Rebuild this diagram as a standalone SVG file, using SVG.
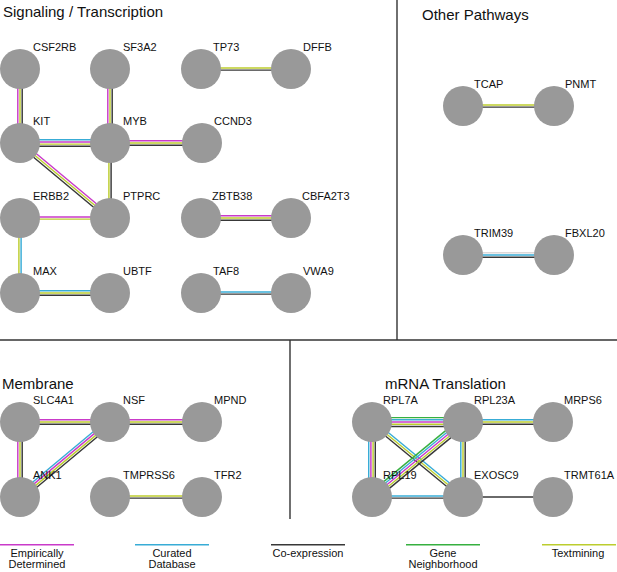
<svg xmlns="http://www.w3.org/2000/svg" width="617" height="572" viewBox="0 0 617 572">
<style>
text{font-family:"Liberation Sans",Arial,sans-serif;fill:#111}
.t{font-size:15px}
.l{font-size:11px}
.lg{font-size:11px;text-anchor:middle}
.n{fill:#999999}
.sep{stroke:#333;stroke-width:1.4;fill:none}
.e line{stroke-width:1.45}
.m{stroke:#c93ac9}
.c{stroke:#38acd6}
.k{stroke:#383838}
.g{stroke:#36b040}
.y{stroke:#bccd2e}
.f{stroke:#ddd8d8}
</style>
<rect width="617" height="572" fill="#fff"/>
<g id="separators">
<line class="sep" x1="397" y1="0" x2="397" y2="340"/>
<line class="sep" x1="0" y1="340" x2="617" y2="340"/>
<line class="sep" x1="290" y1="340" x2="290" y2="519"/>
</g>
<g id="titles">
<text class="t" x="3" y="17">Signaling / Transcription</text>
<text class="t" x="422" y="20">Other Pathways</text>
<text class="t" x="2" y="389">Membrane</text>
<text class="t" x="385" y="389">mRNA Translation</text>
</g>
<g id="connectors" class="e">
<line class="m" x1="17.8" y1="69" x2="17.8" y2="143"/>
<line class="y" x1="20" y1="69" x2="20" y2="143"/>
<line class="k" x1="22.2" y1="69" x2="22.2" y2="143"/>
<line class="m" x1="107.8" y1="69" x2="107.8" y2="143"/>
<line class="y" x1="110" y1="69" x2="110" y2="143"/>
<line class="k" x1="112.2" y1="69" x2="112.2" y2="143"/>
<line class="c" x1="20" y1="139.7" x2="110" y2="139.7"/>
<line class="m" x1="20" y1="141.9" x2="110" y2="141.9"/>
<line class="y" x1="20" y1="144.1" x2="110" y2="144.1"/>
<line class="k" x1="20" y1="146.3" x2="110" y2="146.3"/>
<line class="m" x1="110" y1="140.8" x2="202" y2="140.8"/>
<line class="y" x1="110" y1="143" x2="202" y2="143"/>
<line class="k" x1="110" y1="145.2" x2="202" y2="145.2"/>
<line class="m" x1="21.41" y1="141.31" x2="111.41" y2="216.31"/>
<line class="y" x1="20" y1="143" x2="110" y2="218"/>
<line class="k" x1="18.59" y1="144.69" x2="108.59" y2="219.69"/>
<line class="y" x1="108.9" y1="143" x2="108.9" y2="218"/>
<line class="k" x1="111.1" y1="143" x2="111.1" y2="218"/>
<line class="m" x1="20" y1="216.9" x2="110" y2="216.9"/>
<line class="y" x1="20" y1="219.1" x2="110" y2="219.1"/>
<line class="y" x1="18.9" y1="218" x2="18.9" y2="293"/>
<line class="c" x1="21.1" y1="218" x2="21.1" y2="293"/>
<line class="c" x1="20" y1="290.8" x2="110" y2="290.8"/>
<line class="y" x1="20" y1="293" x2="110" y2="293"/>
<line class="k" x1="20" y1="295.2" x2="110" y2="295.2"/>
<line class="y" x1="201" y1="67.9" x2="291" y2="67.9"/>
<line class="k" x1="201" y1="70.1" x2="291" y2="70.1"/>
<line class="m" x1="201" y1="215.8" x2="291" y2="215.8"/>
<line class="y" x1="201" y1="218" x2="291" y2="218"/>
<line class="k" x1="201" y1="220.2" x2="291" y2="220.2"/>
<line class="c" x1="201" y1="291.9" x2="291" y2="291.9"/>
<line class="k" x1="201" y1="294.1" x2="291" y2="294.1"/>
<line class="y" x1="463" y1="104.9" x2="554" y2="104.9"/>
<line class="k" x1="463" y1="107.1" x2="554" y2="107.1"/>
<line class="f" x1="463" y1="252.8" x2="554" y2="252.8"/>
<line class="c" x1="463" y1="255" x2="554" y2="255"/>
<line class="k" x1="463" y1="257.2" x2="554" y2="257.2"/>
<line class="m" x1="20" y1="419.8" x2="110" y2="419.8"/>
<line class="y" x1="20" y1="422" x2="110" y2="422"/>
<line class="k" x1="20" y1="424.2" x2="110" y2="424.2"/>
<line class="m" x1="110" y1="419.8" x2="202" y2="419.8"/>
<line class="y" x1="110" y1="422" x2="202" y2="422"/>
<line class="k" x1="110" y1="424.2" x2="202" y2="424.2"/>
<line class="m" x1="17.8" y1="422" x2="17.8" y2="497"/>
<line class="y" x1="20" y1="422" x2="20" y2="497"/>
<line class="k" x1="22.2" y1="422" x2="22.2" y2="497"/>
<line class="c" x1="107.89" y1="419.47" x2="17.89" y2="494.47"/>
<line class="m" x1="109.3" y1="421.16" x2="19.3" y2="496.16"/>
<line class="y" x1="110.7" y1="422.84" x2="20.7" y2="497.84"/>
<line class="k" x1="112.11" y1="424.53" x2="22.11" y2="499.53"/>
<line class="y" x1="110" y1="495.9" x2="202" y2="495.9"/>
<line class="k" x1="110" y1="498.1" x2="202" y2="498.1"/>
<line class="g" x1="372" y1="417.6" x2="463" y2="417.6"/>
<line class="c" x1="372" y1="419.8" x2="463" y2="419.8"/>
<line class="m" x1="372" y1="422" x2="463" y2="422"/>
<line class="y" x1="372" y1="424.2" x2="463" y2="424.2"/>
<line class="k" x1="372" y1="426.4" x2="463" y2="426.4"/>
<line class="c" x1="463" y1="419.8" x2="553" y2="419.8"/>
<line class="y" x1="463" y1="422" x2="553" y2="422"/>
<line class="k" x1="463" y1="424.2" x2="553" y2="424.2"/>
<line class="c" x1="368.7" y1="422" x2="368.7" y2="497"/>
<line class="m" x1="370.9" y1="422" x2="370.9" y2="497"/>
<line class="y" x1="373.1" y1="422" x2="373.1" y2="497"/>
<line class="k" x1="375.3" y1="422" x2="375.3" y2="497"/>
<line class="c" x1="460.8" y1="422" x2="460.8" y2="497"/>
<line class="y" x1="463" y1="422" x2="463" y2="497"/>
<line class="k" x1="465.2" y1="422" x2="465.2" y2="497"/>
<line class="c" x1="373.4" y1="420.3" x2="464.4" y2="495.3"/>
<line class="y" x1="372" y1="422" x2="463" y2="497"/>
<line class="k" x1="370.6" y1="423.7" x2="461.6" y2="498.7"/>
<line class="g" x1="460.2" y1="418.6" x2="369.2" y2="493.6"/>
<line class="c" x1="461.6" y1="420.3" x2="370.6" y2="495.3"/>
<line class="m" x1="463" y1="422" x2="372" y2="497"/>
<line class="y" x1="464.4" y1="423.7" x2="373.4" y2="498.7"/>
<line class="k" x1="465.8" y1="425.4" x2="374.8" y2="500.4"/>
<line class="c" x1="372" y1="495.9" x2="463" y2="495.9"/>
<line class="k" x1="372" y1="498.1" x2="463" y2="498.1"/>
<line class="k" x1="463" y1="497" x2="553" y2="497"/>
</g>
<g id="CSF2RB"><circle class="n" cx="20" cy="69" r="20"/><text class="l" x="33" y="51">CSF2RB</text></g>
<g id="SF3A2"><circle class="n" cx="110" cy="69" r="20"/><text class="l" x="123" y="51">SF3A2</text></g>
<g id="TP73"><circle class="n" cx="201" cy="69" r="20"/><text class="l" x="213" y="51">TP73</text></g>
<g id="DFFB"><circle class="n" cx="291" cy="69" r="20"/><text class="l" x="303" y="51">DFFB</text></g>
<g id="KIT"><circle class="n" cx="20" cy="143" r="20"/><text class="l" x="33" y="125">KIT</text></g>
<g id="MYB"><circle class="n" cx="110" cy="143" r="20"/><text class="l" x="123" y="125">MYB</text></g>
<g id="CCND3"><circle class="n" cx="202" cy="143" r="20"/><text class="l" x="214" y="125">CCND3</text></g>
<g id="ERBB2"><circle class="n" cx="20" cy="218" r="20"/><text class="l" x="33" y="200">ERBB2</text></g>
<g id="PTPRC"><circle class="n" cx="110" cy="218" r="20"/><text class="l" x="123" y="200">PTPRC</text></g>
<g id="ZBTB38"><circle class="n" cx="201" cy="218" r="20"/><text class="l" x="212" y="200">ZBTB38</text></g>
<g id="CBFA2T3"><circle class="n" cx="291" cy="218" r="20"/><text class="l" x="302" y="200">CBFA2T3</text></g>
<g id="MAX"><circle class="n" cx="20" cy="293" r="20"/><text class="l" x="33" y="275">MAX</text></g>
<g id="UBTF"><circle class="n" cx="110" cy="293" r="20"/><text class="l" x="123" y="275">UBTF</text></g>
<g id="TAF8"><circle class="n" cx="201" cy="293" r="20"/><text class="l" x="213" y="275">TAF8</text></g>
<g id="VWA9"><circle class="n" cx="291" cy="293" r="20"/><text class="l" x="303" y="275">VWA9</text></g>
<g id="TCAP"><circle class="n" cx="463" cy="106" r="20"/><text class="l" x="474" y="88">TCAP</text></g>
<g id="PNMT"><circle class="n" cx="554" cy="106" r="20"/><text class="l" x="565" y="88">PNMT</text></g>
<g id="TRIM39"><circle class="n" cx="463" cy="255" r="20"/><text class="l" x="474" y="237">TRIM39</text></g>
<g id="FBXL20"><circle class="n" cx="554" cy="255" r="20"/><text class="l" x="565" y="237">FBXL20</text></g>
<g id="SLC4A1"><circle class="n" cx="20" cy="422" r="20"/><text class="l" x="33" y="404">SLC4A1</text></g>
<g id="NSF"><circle class="n" cx="110" cy="422" r="20"/><text class="l" x="123" y="404">NSF</text></g>
<g id="MPND"><circle class="n" cx="202" cy="422" r="20"/><text class="l" x="214" y="404">MPND</text></g>
<g id="ANK1"><circle class="n" cx="20" cy="497" r="20"/><text class="l" x="33" y="479">ANK1</text></g>
<g id="TMPRSS6"><circle class="n" cx="110" cy="497" r="20"/><text class="l" x="123" y="479">TMPRSS6</text></g>
<g id="TFR2"><circle class="n" cx="202" cy="497" r="20"/><text class="l" x="214" y="479">TFR2</text></g>
<g id="RPL7A"><circle class="n" cx="372" cy="422" r="20"/><text class="l" x="383" y="404">RPL7A</text></g>
<g id="RPL23A"><circle class="n" cx="463" cy="422" r="20"/><text class="l" x="474" y="404">RPL23A</text></g>
<g id="MRPS6"><circle class="n" cx="553" cy="422" r="20"/><text class="l" x="564" y="404">MRPS6</text></g>
<g id="RPL19"><circle class="n" cx="372" cy="497" r="20"/><text class="l" x="383" y="479">RPL19</text></g>
<g id="EXOSC9"><circle class="n" cx="463" cy="497" r="20"/><text class="l" x="474" y="479">EXOSC9</text></g>
<g id="TRMT61A"><circle class="n" cx="553" cy="497" r="20"/><text class="l" x="564" y="479">TRMT61A</text></g>
<g id="legend" class="e">
<line class="m" x1="0" y1="544.7" x2="74" y2="544.7"/>
<line class="c" x1="135" y1="544.7" x2="209" y2="544.7"/>
<line class="k" x1="271" y1="544.7" x2="345" y2="544.7"/>
<line class="g" x1="406" y1="544.7" x2="480" y2="544.7"/>
<line class="y" x1="542" y1="544.7" x2="616" y2="544.7"/>
<text class="lg" x="37" y="557">Empirically</text>
<text class="lg" x="37" y="568">Determined</text>
<text class="lg" x="172" y="557">Curated</text>
<text class="lg" x="172" y="568">Database</text>
<text class="lg" x="308" y="557">Co-expression</text>
<text class="lg" x="443" y="557">Gene</text>
<text class="lg" x="443" y="568">Neighborhood</text>
<text class="lg" x="578" y="557">Textmining</text>
</g>
</svg>
